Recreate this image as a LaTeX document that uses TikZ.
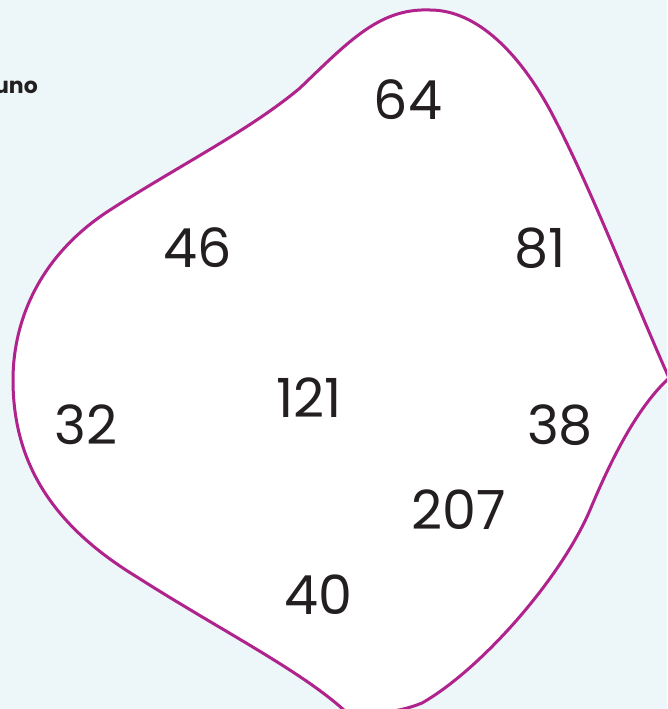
\documentclass[tikz,border=0pt]{standalone}
\usepackage{fontspec}
\setmainfont{Poppins}
\definecolor{bgblue}{RGB}{237,246,248}
\definecolor{blobmag}{RGB}{176,34,140}
\definecolor{numink}{RGB}{35,31,32}
\begin{document}
\begin{tikzpicture}[x=1pt,y=-1pt,
  numlabel/.style={font=\fontsize{54}{60}\selectfont, text=numink, inner sep=0pt},
  toplabel/.style={font=\bfseries\fontsize{22}{26}\selectfont, text=numink, inner sep=0pt}]
\useasboundingbox (0,0) rectangle (667,709);
\fill[bgblue] (0,0) rectangle (667,709);
\begin{scope}
\clip (0,0) rectangle (667,709);
\draw[blobmag, line width=3pt, fill=white, line join=round]
  (430,10) .. controls (380,8) and (350,40) .. (300,88)
  .. controls (250,130) and (180,165) .. (110,210)
  .. controls (40,255) and (13,320) .. (13,380)
  .. controls (13,470) and (60,530) .. (137,577)
  .. controls (220,630) and (300,670) .. (345,711)
  .. controls (375,715) and (400,712) .. (422,703)
  .. controls (480,670) and (560,580) .. (590,510)
  .. controls (615,450) and (640,405) .. (669,378)
  .. controls (630,290) and (590,185) .. (550,110)
  .. controls (520,55) and (478,10) .. (430,10) -- cycle;
\node[toplabel, anchor=east] (uno) at (38,87) {uno};
\end{scope}
\node[numlabel] (n64) at (408,100) {64};
\node[numlabel] (n46) at (198,248) {46};
\node[numlabel] (n81) at (540,248) {81};
\node[numlabel] (n32) at (86,425) {32};
\node[numlabel] (n121) at (309,398) {121};
\node[numlabel] (n38) at (560,425) {38};
\node[numlabel] (n207) at (459,510) {207};
\node[numlabel] (n40) at (318,595) {40};
\end{tikzpicture}
\end{document}
